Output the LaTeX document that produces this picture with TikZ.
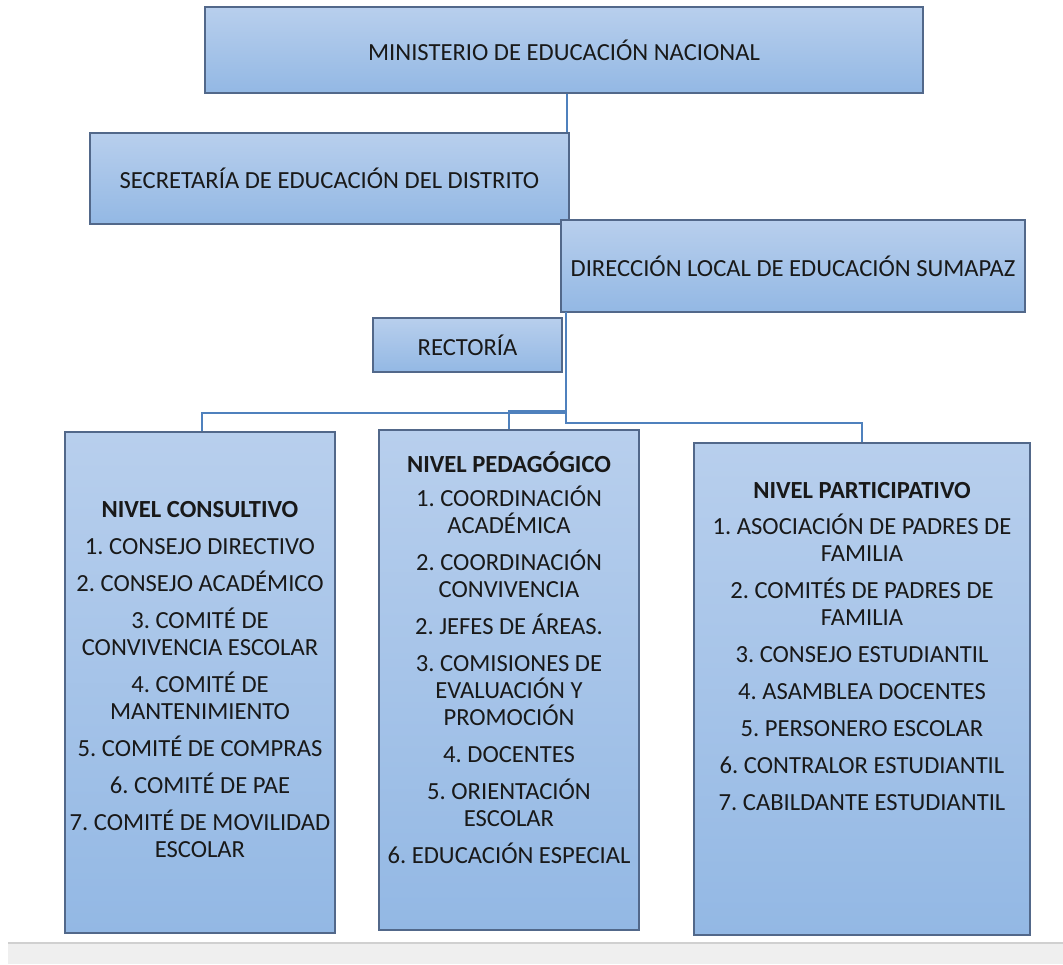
\documentclass[tikz,border=0pt]{standalone}
\usepackage{fontspec}
\setmainfont{Carlito}
\usetikzlibrary{positioning}
\definecolor{boxtop}{RGB}{184,207,237}
\definecolor{boxbot}{RGB}{147,184,228}
\definecolor{boxline}{RGB}{82,104,138}
\definecolor{linkblue}{RGB}{79,129,189}
\definecolor{barfill}{RGB}{239,239,239}
\definecolor{barline}{RGB}{208,208,208}
\frenchspacing

\begin{document}
\begin{tikzpicture}[
            x=0.5pt, y=-0.5pt,
            font=\fontsize{12.3}{13.5}\selectfont,
            orgbox/.style={rectangle,draw=boxline,line width=0.7pt,
              top color=boxtop,bottom color=boxbot,text=black!90,inner sep=0pt},
            levellist/.style={align=center,text=black!90,inner sep=0pt},
            link/.style={draw=linkblue,line width=0.9pt}]
            \useasboundingbox (0,0) rectangle (1063,964);
            \fill[barfill] (8,943) rectangle (1063,964);
            \draw[barline,line width=1pt] (8,943) -- (1063,943);

            \node[orgbox,minimum width=359pt,minimum height=43pt](ministerio) at (564,50)
              {MINISTERIO DE EDUCACIÓN NACIONAL};
            \node[orgbox,minimum width=239.5pt,minimum height=45.5pt](secretaria) at (329.5,178.5)
              {SECRETARÍA DE EDUCACIÓN DEL DISTRITO};
            \node[orgbox,minimum width=232pt,minimum height=46pt](direccion) at (793,266)
              {DIRECCIÓN LOCAL DE EDUCACIÓN SUMAPAZ};
            \node[orgbox,minimum width=94.5pt,minimum height=27pt](rectoria) at (467.5,345)
              {RECTORÍA};

            \node[orgbox,minimum width=135pt,minimum height=250.5pt](consultivo) at (200,682.5) {};
            \node[orgbox,minimum width=130pt,minimum height=250pt](pedagogico) at (509,680) {};
            \node[orgbox,minimum width=168pt,minimum height=246pt](participativo) at (862,689) {};

            \node[levellist,below=35pt of consultivo.north](consultivolist){
              \textbf{NIVEL CONSULTIVO}\\[5pt]
              1. CONSEJO DIRECTIVO\\[5pt]
              2. CONSEJO ACADÉMICO\\[5pt]
              3. COMITÉ DE\\ CONVIVENCIA ESCOLAR\\[5pt]
              4. COMITÉ DE\\ MANTENIMIENTO\\[5pt]
              5. COMITÉ DE COMPRAS\\[5pt]
              6. COMITÉ DE PAE\\[5pt]
              7. COMITÉ DE MOVILIDAD\\ ESCOLAR};
            \node[levellist,below=11pt of pedagogico.north](pedagogicolist){
              \textbf{NIVEL PEDAGÓGICO}\\[3.5pt]
              1. COORDINACIÓN\\ ACADÉMICA\\[5pt]
              2. COORDINACIÓN\\ CONVIVENCIA\\[5pt]
              2. JEFES DE ÁREAS.\\[5pt]
              3. COMISIONES DE\\ EVALUACIÓN Y\\ PROMOCIÓN\\[5pt]
              4. DOCENTES\\[5pt]
              5. ORIENTACIÓN\\ ESCOLAR\\[5pt]
              6. EDUCACIÓN ESPECIAL};
            \node[levellist,below=20pt of participativo.north](participativolist){
              \textbf{NIVEL PARTICIPATIVO}\\[4.5pt]
              1. ASOCIACIÓN DE PADRES DE\\ FAMILIA\\[5pt]
              2. COMITÉS DE PADRES DE\\ FAMILIA\\[5pt]
              3. CONSEJO ESTUDIANTIL\\[5pt]
              4. ASAMBLEA DOCENTES\\[5pt]
              5. PERSONERO ESCOLAR\\[5pt]
              6. CONTRALOR ESTUDIANTIL\\[5pt]
              7. CABILDANTE ESTUDIANTIL};

            % connectors
            \coordinate (bus) at (566,312);
            \path[link] ([xshift=1.5pt]ministerio.south)
              -- ([xshift=1.5pt]ministerio.south |- secretaria.north);
            \path[link] (bus) -- (566,423) -| (participativo.north);
            \path[link] (566,413) -| ([xshift=1pt]consultivo.north);
            \path[link] (566,411) -| (pedagogico.north);
            \end{tikzpicture}
\end{document}
